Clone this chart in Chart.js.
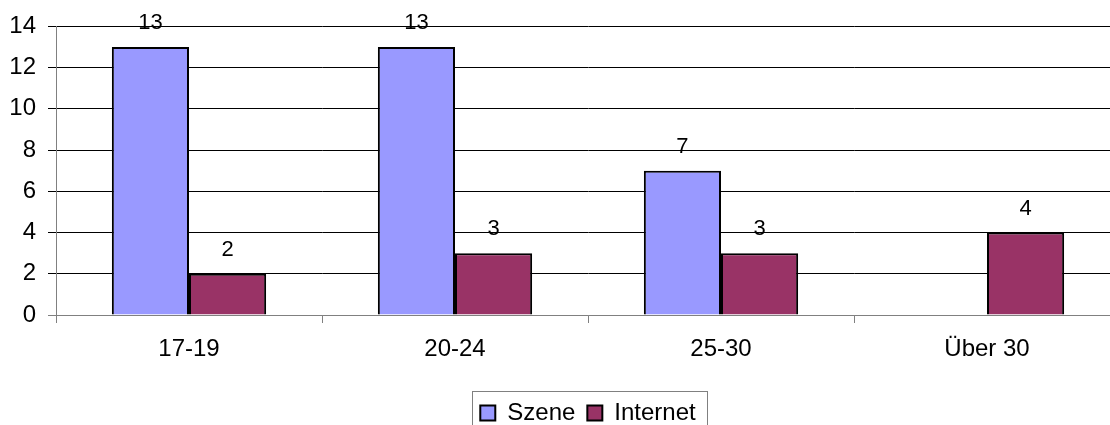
<!DOCTYPE html>
<html>
<head>
<meta charset="utf-8">
<script src="https://cdn.jsdelivr.net/npm/chart.js@4/dist/chart.umd.min.js"></script>
<style>
  body { margin: 0; overflow: hidden; background: #fff; }
  .wrap { width: 1120px; height: 425px; }
</style>
</head>
<body>
<div class="wrap"><canvas id="myChart" width="1120" height="425"></canvas></div>
<script>
let categories = ["17-19", "20-24", "25-30", "Über 30"];
let szene = [13, 13, 7, null];
let internet = [2, 3, 3, 4];
let yTicks = [0, 2, 4, 6, 8, 10, 12, 14];

let fontName = "'Liberation Sans', Arial, sans-serif";

// numbers above the bars
let valueLabels = {
  id: "valueLabels",
  afterDatasetsDraw(chart) {
    let ctx = chart.ctx;
    ctx.save();
    ctx.font = "22px " + fontName;
    ctx.fillStyle = "#000";
    ctx.textAlign = "center";
    ctx.textBaseline = "alphabetic";
    chart.data.datasets.forEach((ds, i) => {
      chart.getDatasetMeta(i).data.forEach((bar, j) => {
        if (ds.data[j] == null) return;
        ctx.fillText(ds.data[j], bar.x, bar.y - 18);
      });
    });
    ctx.restore();
  }
};

// frame round the legend
let legendBox = {
  id: "legendBox",
  afterDraw(chart) {
    let boxes = chart.legend.legendHitBoxes;
    if (!boxes || !boxes.length) return;
    let left = boxes[0].left - 8;
    let last = boxes[boxes.length - 1];
    let right = last.left + last.width + 12;
    let top = boxes[0].top - 10;
    let ctx = chart.ctx;
    ctx.save();
    ctx.strokeStyle = "#808080";
    ctx.lineWidth = 1;
    ctx.strokeRect(Math.round(left) + 0.5, Math.round(top) + 0.5, Math.round(right - left), 60);
    ctx.restore();
  }
};

new Chart("myChart", {
  type: "bar",
  data: {
    labels: categories,
    datasets: [
      {
        label: "Szene",
        data: szene,
        backgroundColor: "#9999FF",
        borderColor: "#000",
        borderWidth: 2,
        categoryPercentage: 0.58,
        barPercentage: 1
      },
      {
        label: "Internet",
        data: internet,
        backgroundColor: "#993366",
        borderColor: "#000",
        borderWidth: 2,
        categoryPercentage: 0.58,
        barPercentage: 1
      }
    ]
  },
  options: {
    responsive: false,
    animation: false,
    layout: { padding: { top: 26, right: 0, left: 0, bottom: -10 } },
    plugins: {
      tooltip: { enabled: false },
      legend: {
        position: "bottom",
        fullSize: false,
        labels: {
          color: "#000",
          font: { family: fontName, size: 24 },
          boxWidth: 15,
          boxHeight: 15,
          padding: 12
        }
      }
    },
    scales: {
      x: {
        grid: { drawOnChartArea: false, offset: true, tickLength: 8, color: "#808080" },
        border: { color: "#808080" },
        ticks: {
          color: "#000",
          font: { family: fontName, size: 24 },
          padding: 12
        },
        afterFit(scale) { scale.height = 74; }
      },
      y: {
        min: 0,
        max: 14,
        afterBuildTicks(scale) { scale.ticks = yTicks.map(v => ({ value: v })); },
        grid: {
          color: (c) => c.tick && c.tick.value === 0 ? "#808080" : "#000",
          tickLength: 8
        },
        border: { color: "#808080" },
        ticks: {
          color: "#000",
          font: { family: fontName, size: 24 },
          padding: 12
        },
        afterFit(scale) { scale.width = 56; }
      }
    }
  },
  plugins: [valueLabels, legendBox]
});
</script>
</body>
</html>
